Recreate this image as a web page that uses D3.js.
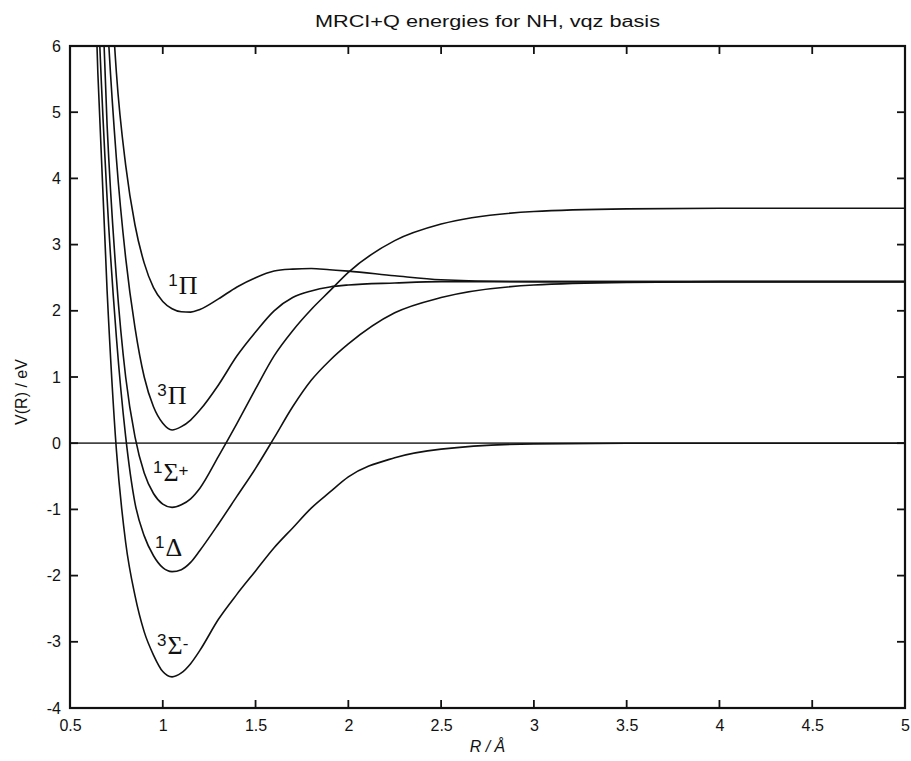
<!DOCTYPE html>
<html>
<head>
<meta charset="utf-8">
<script src="https://cdn.jsdelivr.net/npm/d3@7/dist/d3.min.js"></script>
<style>
  body { margin: 0; background: #fff; }
  svg text { font-family: "Liberation Sans", Arial, sans-serif; fill: #111; }
  .curve { fill: none; stroke: #111; stroke-width: 1.6; }
  .zero-line { fill: none; stroke: #444; stroke-width: 1.8; }
  .frame { fill: none; stroke: #111; stroke-width: 2.2; }
  .tick-mark { stroke: #111; stroke-width: 1.8; }
</style>
</head>
<body>
<svg id="chart" width="911" height="761"></svg>
<script>
// bond length R / Angstrom
const bondLengths = [0.6, 0.65, 0.7, 0.75, 0.8, 0.85, 0.9, 0.95, 1.0, 1.05, 1.1, 1.15, 1.2,
  1.3, 1.4, 1.5, 1.6, 1.7, 1.8, 1.9, 2.0, 2.25, 2.5, 3.0, 3.5, 4.0, 5.0];

// V(R) / eV for each state
const x3SigmaMinus = [10, 5.6, 2.3, -0.1, -1.5, -2.3, -2.85, -3.2, -3.45, -3.53, -3.47, -3.33, -3.13,
  -2.66, -2.28, -1.93, -1.58, -1.28, -0.98, -0.74, -0.51, -0.22, -0.09, -0.01, 0, 0, 0];
const a1Delta = [12, 6.8, 3.7, 1.6, 0.1, -0.9, -1.4, -1.7, -1.88, -1.94, -1.91, -1.8, -1.62,
  -1.22, -0.8, -0.38, 0.08, 0.55, 0.95, 1.25, 1.5, 1.97, 2.2, 2.39, 2.43, 2.44, 2.44];
const b1SigmaPlus = [14, 8.5, 4.8, 2.5, 1.0, 0.1, -0.45, -0.76, -0.92, -0.97, -0.93, -0.84, -0.68,
  -0.2, 0.3, 0.82, 1.32, 1.7, 2.02, 2.3, 2.58, 3.06, 3.31, 3.5, 3.54, 3.55, 3.55];
const a3Pi = [16, 10, 6.5, 4.3, 2.8, 1.75, 1.0, 0.55, 0.3, 0.2, 0.25, 0.35, 0.5,
  0.88, 1.32, 1.68, 2.0, 2.2, 2.3, 2.36, 2.39, 2.42, 2.44, 2.44, 2.44, 2.44, 2.44];
const c1Pi = [20, 12.5, 8.2, 5.6, 4.2, 3.3, 2.72, 2.35, 2.14, 2.03, 1.985, 1.98, 2.02,
  2.18, 2.36, 2.5, 2.6, 2.63, 2.64, 2.62, 2.6, 2.53, 2.47, 2.44, 2.44, 2.44, 2.44];

const zeroLine = [[0.5, 0], [5, 0]];

const xTicks = [0.5, 1, 1.5, 2, 2.5, 3, 3.5, 4, 4.5, 5];
const yTicks = [-4, -3, -2, -1, 0, 1, 2, 3, 4, 5, 6];

// state labels: multiplicity, symbol, suffix, anchor (R, V)
const stateLabels = [
  { mult: "1", sym: "\u03A0", suffix: "", R: 1.03, V: 2.25 },
  { mult: "3", sym: "\u03A0", suffix: "", R: 0.97, V: 0.59 },
  { mult: "1", sym: "\u03A3", suffix: "+", R: 0.947, V: -0.57 },
  { mult: "1", sym: "\u0394", suffix: "", R: 0.958, V: -1.71 },
  { mult: "3", sym: "\u03A3", suffix: "-", R: 0.969, V: -3.19 },
];

const states = [x3SigmaMinus, a1Delta, b1SigmaPlus, a3Pi, c1Pi];

const svg = d3.select("#chart");
const x = d3.scaleLinear().domain([0.5, 5]).range([70, 905]);
const y = d3.scaleLinear().domain([-4, 6]).range([708, 46]);
const [x0, x1] = x.range();
const [y0, y1] = y.range();

svg.append("clipPath").attr("id", "plot-clip")
  .append("rect")
  .attr("x", x0).attr("y", y1)
  .attr("width", x1 - x0).attr("height", y0 - y1);

const plot = svg.append("g").attr("clip-path", "url(#plot-clip)");

const line = d3.line()
  .x((d) => x(d[0]))
  .y((d) => y(d[1]))
  .curve(d3.curveMonotoneX);

plot.append("path")
  .attr("class", "zero-line")
  .attr("d", d3.line().x((d) => x(d[0])).y((d) => y(d[1]))(zeroLine));

plot.selectAll(".curve")
  .data(states)
  .join("path")
  .attr("class", "curve")
  .attr("d", (vals) => line(bondLengths.map((r, i) => [r, vals[i]])));

// axes: labels from d3 axes, MATLAB style box with inward ticks drawn by hand
const tick = 8;
const fmt = (d) => String(d);

svg.append("g").attr("class", "axis")
  .attr("transform", `translate(0,${y0})`)
  .call(d3.axisBottom(x).tickValues(xTicks).tickFormat(fmt).tickSize(0).tickPadding(12))
  .call((g) => g.select(".domain").remove());

svg.append("g").attr("class", "axis")
  .attr("transform", `translate(${x0},0)`)
  .call(d3.axisLeft(y).tickValues(yTicks).tickFormat(fmt).tickSize(0).tickPadding(9))
  .call((g) => g.select(".domain").remove());

svg.selectAll(".axis text").attr("font-size", 16).attr("fill", "#111")
  .attr("font-family", "'Liberation Sans', Arial, sans-serif");

const ticks = svg.append("g");
ticks.selectAll(".xt-bottom").data(xTicks).join("line").attr("class", "tick-mark xt-bottom")
  .attr("x1", (d) => x(d)).attr("x2", (d) => x(d)).attr("y1", y0).attr("y2", y0 - tick);
ticks.selectAll(".xt-top").data(xTicks).join("line").attr("class", "tick-mark xt-top")
  .attr("x1", (d) => x(d)).attr("x2", (d) => x(d)).attr("y1", y1).attr("y2", y1 + tick);
ticks.selectAll(".yt-left").data(yTicks).join("line").attr("class", "tick-mark yt-left")
  .attr("y1", (d) => y(d)).attr("y2", (d) => y(d)).attr("x1", x0).attr("x2", x0 + tick);
ticks.selectAll(".yt-right").data(yTicks).join("line").attr("class", "tick-mark yt-right")
  .attr("y1", (d) => y(d)).attr("y2", (d) => y(d)).attr("x1", x1).attr("x2", x1 - tick);

svg.append("rect").attr("class", "frame")
  .attr("x", x0).attr("y", y1)
  .attr("width", x1 - x0).attr("height", y0 - y1);

// title and axis labels
svg.append("text")
  .attr("x", (x0 + x1) / 2).attr("y", 27)
  .attr("text-anchor", "middle").attr("font-size", 16)
  .attr("textLength", 345).attr("lengthAdjust", "spacingAndGlyphs")
  .text("MRCI+Q energies for NH, vqz basis");

svg.append("text")
  .attr("x", (x0 + x1) / 2).attr("y", 752)
  .attr("text-anchor", "middle").attr("font-size", 16)
  .attr("font-style", "italic")
  .text("R / \u00C5");

svg.append("text")
  .attr("transform", `translate(27,392) rotate(-90)`)
  .attr("text-anchor", "middle").attr("font-size", 16)
  .text("V(R) / eV");

// state labels
const lbl = svg.selectAll(".state-label")
  .data(stateLabels)
  .join("text")
  .attr("class", "state-label")
  .attr("x", (d) => x(d.R))
  .attr("y", (d) => y(d.V));

lbl.append("tspan").attr("font-size", 17).attr("dy", -8).text((d) => d.mult);
lbl.append("tspan")
  .attr("font-family", "'Liberation Serif', 'DejaVu Serif', serif")
  .attr("font-size", 26).attr("dy", 8).attr("dx", 1)
  .text((d) => d.sym);
lbl.append("tspan").attr("font-size", 17).attr("dy", -5).text((d) => d.suffix);
</script>
</body>
</html>
